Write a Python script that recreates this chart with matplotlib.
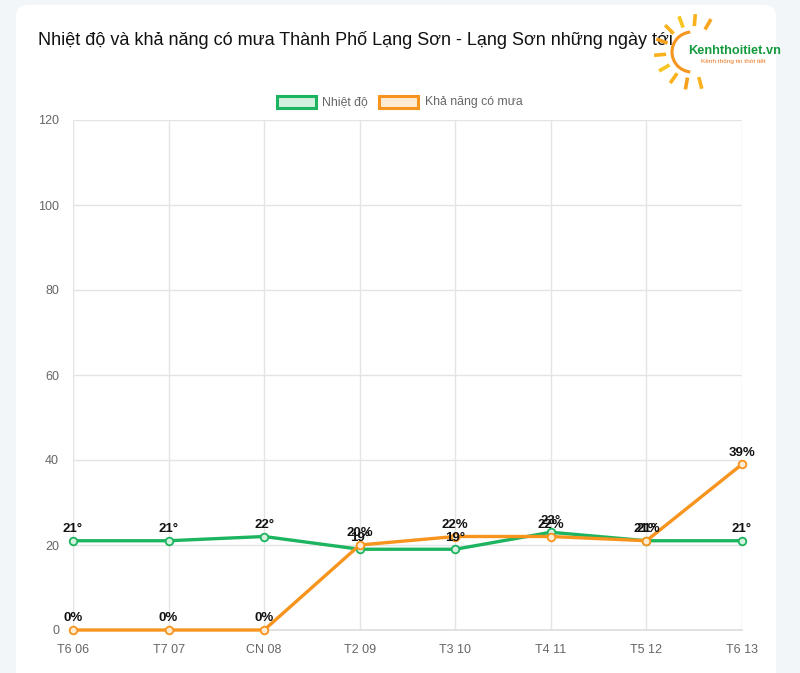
import matplotlib
matplotlib.use("Agg")
import matplotlib.pyplot as plt
from matplotlib.patches import FancyBboxPatch, Rectangle, Arc
import numpy as np

categories = ["T6 06", "T7 07", "CN 08", "T2 09", "T3 10", "T4 11", "T5 12", "T6 13"]
temperature = [21, 21, 22, 19, 19, 23, 21, 21]
rain_chance = [0, 0, 0, 20, 22, 22, 21, 39]
y_ticks = [0, 20, 40, 60, 80, 100, 120]
title = "Nhiệt độ và khả năng có mưa Thành Phố Lạng Sơn - Lạng Sơn những ngày tới"
series_names = ["Nhiệt độ", "Khả năng có mưa"]

plt.rcParams['font.family'] = ['Liberation Sans', 'DejaVu Sans']

W, H = 800, 673
fig = plt.figure(figsize=(W / 100, H / 100), dpi=100)
fig.patch.set_facecolor("#f3f6f8")

# background / card layer
bg = fig.add_axes([0, 0, 1, 1], zorder=0)
bg.set_xlim(0, W); bg.set_ylim(H, 0); bg.axis("off")
bg.add_patch(FancyBboxPatch((16, 5), 760, 700, boxstyle="round,pad=0,rounding_size=12",
                            facecolor="white", edgecolor="none"))
bg.text(38, 40, title, fontsize=13, color="#111111", va="center", ha="left")

GREEN = "#1db460"
ORANGE = "#f7941d"

# legend
bg.add_patch(Rectangle((277, 96), 39, 12, facecolor="#d4f0df", edgecolor=GREEN, lw=2.2))
bg.text(322, 102, series_names[0], fontsize=8.8, color="#666666", va="center", ha="left")
bg.add_patch(Rectangle((379, 96), 39, 12, facecolor="#fdebd3", edgecolor=ORANGE, lw=2.2))
bg.text(425, 102, series_names[1], fontsize=8.8, color="#666666", va="center", ha="left")

# main axes
left, right, top, bottom = 73, 742, 120, 630
ax = fig.add_axes([left / W, 1 - bottom / H, (right - left) / W, (bottom - top) / H], zorder=1)
ax.set_facecolor("none")
x = np.arange(len(categories))
ax.set_xlim(0, len(categories) - 1)
ax.set_ylim(0, 120)
ax.set_yticks(y_ticks)
ax.set_xticks(x)
ax.set_xticklabels(categories)
ax.grid(True, color="#e4e4e4", lw=1)
ax.set_axisbelow(True)
for s in ["top", "right", "left"]:
    ax.spines[s].set_visible(False)
ax.spines["bottom"].set_color("#dddddd")
ax.spines["bottom"].set_linewidth(1.2)
ax.tick_params(axis="both", length=0, labelsize=9, labelcolor="#666666")
ax.tick_params(axis="x", pad=10)
ax.tick_params(axis="y", pad=10)

ax.plot(x, temperature, color=GREEN, lw=2.4, marker="o", ms=5.5, mfc="#d4f0df",
        mec=GREEN, mew=1.3, clip_on=False, zorder=3)
ax.plot(x, rain_chance, color=ORANGE, lw=2.4, marker="o", ms=5.5, mfc="#fdebd3",
        mec=ORANGE, mew=1.3, clip_on=False, zorder=3)

for xi, t in zip(x, temperature):
    ax.annotate(f"{t}°", (xi, t), xytext=(0, 4), textcoords="offset points",
                ha="center", va="bottom", fontsize=9.5, fontweight="bold", color="#111111",
                annotation_clip=False, zorder=5)
for xi, r in zip(x, rain_chance):
    ax.annotate(f"{r}%", (xi, r), xytext=(0, 4), textcoords="offset points",
                ha="center", va="bottom", fontsize=9.5, fontweight="bold", color="#111111",
                annotation_clip=False, zorder=5)

# logo overlay
lg = fig.add_axes([0, 0, 1, 1], zorder=10)
lg.set_xlim(0, W); lg.set_ylim(H, 0); lg.axis("off")
cx, cy = 692, 52
lg.add_patch(Arc((cx, cy), 40, 40, angle=0, theta1=95, theta2=265, color=ORANGE, lw=2.2))
ray_cols = ["#f9a51d", "#f9b21d", "#f7c51d", "#f9b21d", "#f7a01d",
            "#f9b21d", "#f7c51d", "#f9b21d", "#f7a01d", "#f9b21d"]
for ang, col in zip([60, 85, 110, 135, 160, 185, 210, 235, 260, 285], ray_cols):
    a = np.deg2rad(ang)
    r1, r2 = 26, 38
    lg.plot([cx + r1 * np.cos(a), cx + r2 * np.cos(a)],
            [cy - r1 * np.sin(a), cy - r2 * np.sin(a)],
            color=col, lw=2.6, solid_capstyle="butt")
lg.text(688, 51, "Kenhthoitiet.vn", fontsize=9.2, fontweight="bold", color="#139a3c",
        va="center", ha="left")
lg.text(701, 61, "Kênh thông tin thời tiết", fontsize=4.6, color="#e9731c",
        va="center", ha="left")

fig.savefig("out.png", dpi=100, facecolor=fig.get_facecolor())
